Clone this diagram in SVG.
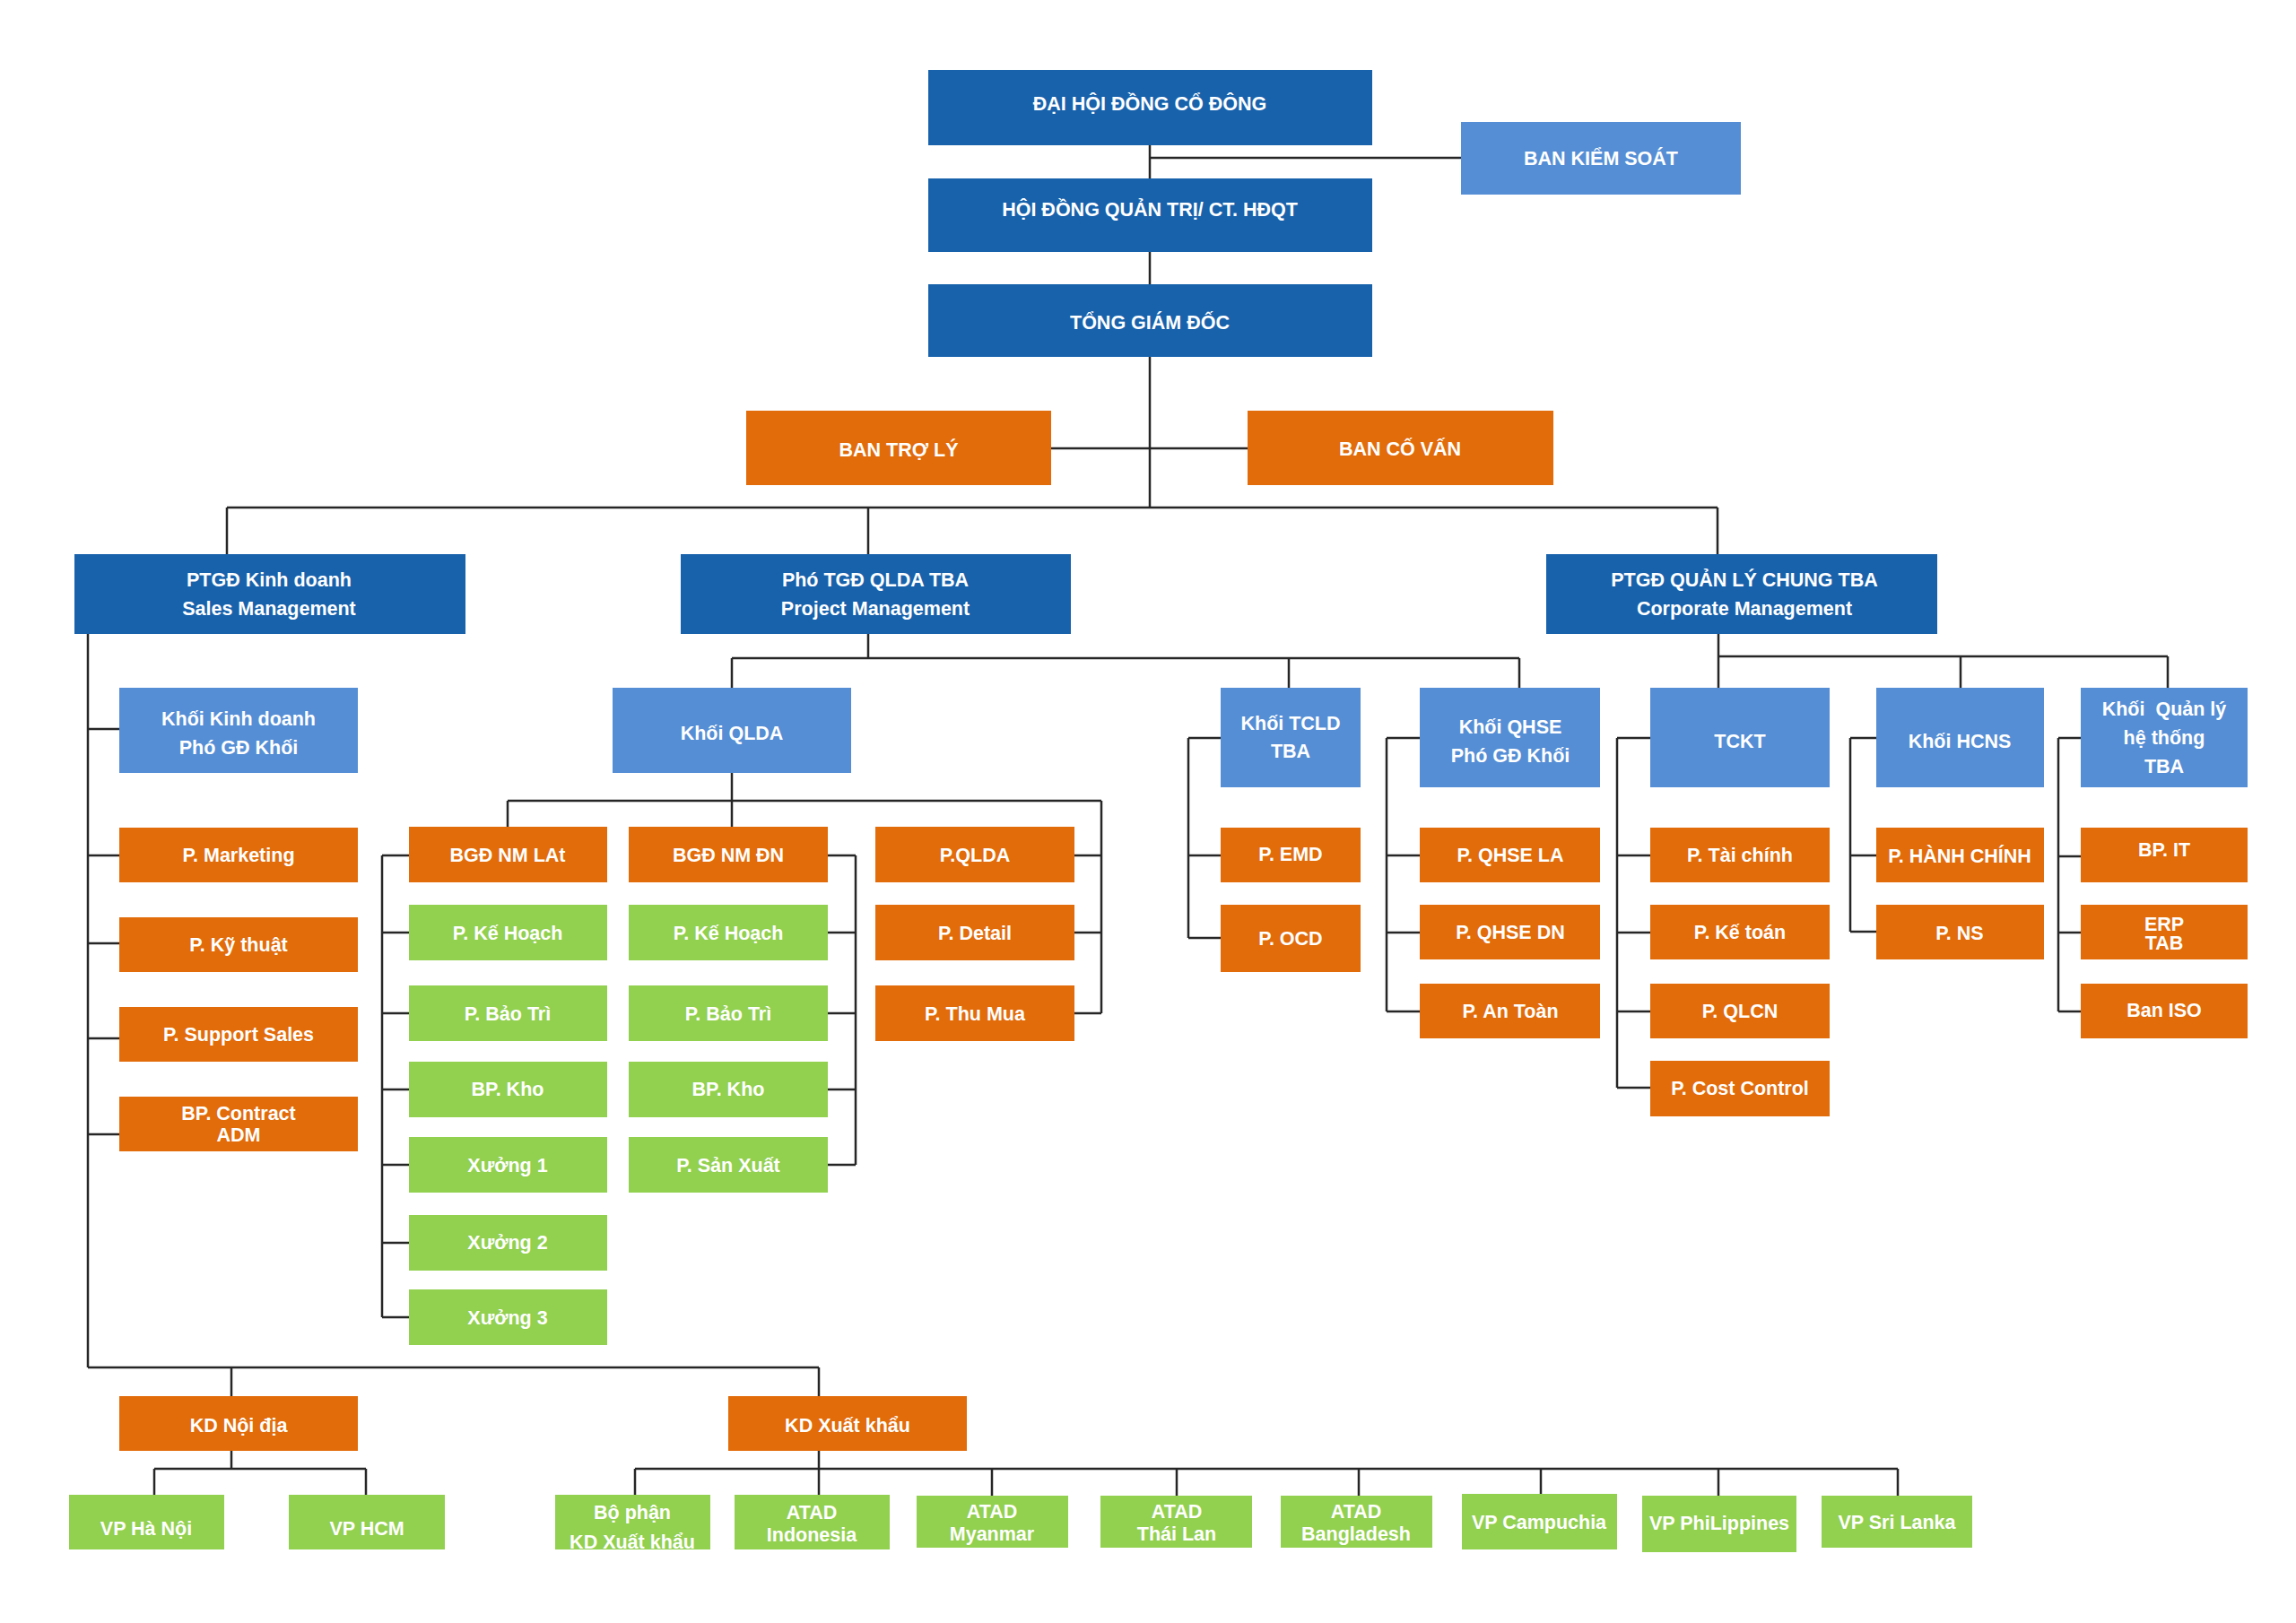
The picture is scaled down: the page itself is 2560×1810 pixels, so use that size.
<svg xmlns="http://www.w3.org/2000/svg" width="2560" height="1810" viewBox="0 0 2560 1810">
<style>
text{font-family:"Liberation Sans",Arial,sans-serif;font-weight:bold;font-size:21.5px;fill:#ffffff;text-anchor:middle}
.db{fill:#1862AC}
.lb{fill:#558ED5}
.or{fill:#E26B0A}
.gr{fill:#92D050}
.c path{fill:none;stroke:#262626;stroke-width:2.5}
</style>
<rect x="0" y="0" width="2560" height="1810" fill="#ffffff"/>
<g class="c" id="connectors">
<path d="M1282 162V199M1282 176H1629M1282 281V317M1282 398V566M1172 500H1391"/>
<path d="M253 566H1915M253 566V618M968 566V618M1915 566V618"/>
<path d="M98 707V1525M98 813H133M98 954H133M98 1052H133M98 1158H133M98 1265H133"/>
<path d="M98 1525H913M258 1525V1557M913 1525V1557"/>
<path d="M258 1618V1638M172 1638H408M172 1638V1667M408 1638V1667"/>
<path d="M913 1618V1667M708 1638H2116M708 1638V1667M1106 1638V1668M1312 1638V1668M1515 1638V1668M1718 1638V1666M1916 1638V1668M2116 1638V1668"/>
<path d="M968 707V734M816 734H1694M816 734V767M1437 734V767M1694 734V767"/>
<path d="M816 862V922M566 893H1228M566 893V922M1228 893V1130M1198 954H1228M1198 1040H1228M1198 1130H1228"/>
<path d="M426 954V1469M426 954H456M426 1040H456M426 1130H456M426 1215H456M426 1299H456M426 1386H456M426 1469H456"/>
<path d="M954 954V1299M923 954H954M923 1040H954M923 1130H954M923 1215H954M923 1299H954"/>
<path d="M1916 707V767M1916 732H2417M2186 732V767M2417 732V767"/>
<path d="M1325 823V1046M1325 823H1361M1325 954H1361M1325 1046H1361"/>
<path d="M1546 823V1128M1546 823H1583M1546 954H1583M1546 1040H1583M1546 1128H1583"/>
<path d="M1803 823V1213M1803 823H1840M1803 954H1840M1803 1040H1840M1803 1128H1840M1803 1213H1840"/>
<path d="M2063 823V1039M2063 823H2092M2063 954H2092M2063 1039H2092"/>
<path d="M2295 823V1128M2295 823H2320M2295 955H2320M2295 1040H2320M2295 1128H2320"/>
</g>
<g id="dhdcd"><rect class="db" x="1035" y="78" width="495" height="84"/><text x="1282" y="123">ĐẠI HỘI ĐỒNG CỔ ĐÔNG</text></g>
<g id="bks"><rect class="lb" x="1629" y="136" width="312" height="81"/><text x="1785" y="184">BAN KIỂM SOÁT</text></g>
<g id="hdqt"><rect class="db" x="1035" y="199" width="495" height="82"/><text x="1282" y="241">HỘI ĐỒNG QUẢN TRỊ/ CT. HĐQT</text></g>
<g id="tgd"><rect class="db" x="1035" y="317" width="495" height="81"/><text x="1282" y="367">TỔNG GIÁM ĐỐC</text></g>
<g id="tro-ly"><rect class="or" x="832" y="458" width="340" height="83"/><text x="1002" y="509">BAN TRỢ LÝ</text></g>
<g id="co-van"><rect class="or" x="1391" y="458" width="341" height="83"/><text x="1561" y="508">BAN CỐ VẤN</text></g>
<g id="ptgd-kd"><rect class="db" x="83" y="618" width="436" height="89"/><text x="300" y="654">PTGĐ Kinh doanh</text><text x="300" y="686">Sales Management</text></g>
<g id="pho-tgd-qlda"><rect class="db" x="759" y="618" width="435" height="89"/><text x="976" y="654">Phó TGĐ QLDA TBA</text><text x="976" y="686">Project Management</text></g>
<g id="ptgd-qlc"><rect class="db" x="1724" y="618" width="436" height="89"/><text x="1945" y="654">PTGĐ QUẢN LÝ CHUNG TBA</text><text x="1945" y="686">Corporate Management</text></g>
<g id="khoi-kd"><rect class="lb" x="133" y="767" width="266" height="95"/><text x="266" y="809">Khối Kinh doanh</text><text x="266" y="841">Phó GĐ Khối</text></g>
<g id="khoi-qlda"><rect class="lb" x="683" y="767" width="266" height="95"/><text x="816" y="825">Khối QLDA</text></g>
<g id="khoi-tcld"><rect class="lb" x="1361" y="767" width="156" height="111"/><text x="1439" y="814">Khối TCLD</text><text x="1439" y="845">TBA</text></g>
<g id="khoi-qhse"><rect class="lb" x="1583" y="767" width="201" height="111"/><text x="1684" y="818">Khối QHSE</text><text x="1684" y="850">Phó GĐ Khối</text></g>
<g id="tckt"><rect class="lb" x="1840" y="767" width="200" height="111"/><text x="1940" y="834">TCKT</text></g>
<g id="khoi-hcns"><rect class="lb" x="2092" y="767" width="187" height="111"/><text x="2185" y="834">Khối HCNS</text></g>
<g id="khoi-qlht"><rect class="lb" x="2320" y="767" width="186" height="111"/><text x="2413" y="798" xml:space="preserve">Khối  Quản lý</text><text x="2413" y="830">hệ thống</text><text x="2413" y="862">TBA</text></g>
<g id="p-marketing"><rect class="or" x="133" y="923" width="266" height="61"/><text x="266" y="961">P. Marketing</text></g>
<g id="p-ky-thuat"><rect class="or" x="133" y="1023" width="266" height="61"/><text x="266" y="1061">P. Kỹ thuật</text></g>
<g id="p-support-sales"><rect class="or" x="133" y="1123" width="266" height="61"/><text x="266" y="1161">P. Support Sales</text></g>
<g id="bp-contract"><rect class="or" x="133" y="1223" width="266" height="61"/><text x="266" y="1249">BP. Contract</text><text x="266" y="1273">ADM</text></g>
<g id="bgd-nm-lat"><rect class="or" x="456" y="922" width="221" height="62"/><text x="566" y="961">BGĐ NM LAt</text></g>
<g id="ke-hoach-lat"><rect class="gr" x="456" y="1009" width="221" height="62"/><text x="566" y="1048">P. Kế Hoạch</text></g>
<g id="bao-tri-lat"><rect class="gr" x="456" y="1099" width="221" height="62"/><text x="566" y="1138">P. Bảo Trì</text></g>
<g id="kho-lat"><rect class="gr" x="456" y="1184" width="221" height="62"/><text x="566" y="1222">BP. Kho</text></g>
<g id="xuong-1"><rect class="gr" x="456" y="1268" width="221" height="62"/><text x="566" y="1307">Xưởng 1</text></g>
<g id="xuong-2"><rect class="gr" x="456" y="1355" width="221" height="62"/><text x="566" y="1393">Xưởng 2</text></g>
<g id="xuong-3"><rect class="gr" x="456" y="1438" width="221" height="62"/><text x="566" y="1477">Xưởng 3</text></g>
<g id="bgd-nm-dn"><rect class="or" x="701" y="922" width="222" height="62"/><text x="812" y="961">BGĐ NM ĐN</text></g>
<g id="ke-hoach-dn"><rect class="gr" x="701" y="1009" width="222" height="62"/><text x="812" y="1048">P. Kế Hoạch</text></g>
<g id="bao-tri-dn"><rect class="gr" x="701" y="1099" width="222" height="62"/><text x="812" y="1138">P. Bảo Trì</text></g>
<g id="kho-dn"><rect class="gr" x="701" y="1184" width="222" height="62"/><text x="812" y="1222">BP. Kho</text></g>
<g id="san-xuat"><rect class="gr" x="701" y="1268" width="222" height="62"/><text x="812" y="1307">P. Sản Xuất</text></g>
<g id="p-qlda"><rect class="or" x="976" y="922" width="222" height="62"/><text x="1087" y="961">P.QLDA</text></g>
<g id="p-detail"><rect class="or" x="976" y="1009" width="222" height="62"/><text x="1087" y="1048">P. Detail</text></g>
<g id="p-thu-mua"><rect class="or" x="976" y="1099" width="222" height="62"/><text x="1087" y="1138">P. Thu Mua</text></g>
<g id="p-emd"><rect class="or" x="1361" y="923" width="156" height="61"/><text x="1439" y="960">P. EMD</text></g>
<g id="p-ocd"><rect class="or" x="1361" y="1009" width="156" height="75"/><text x="1439" y="1054">P. OCD</text></g>
<g id="p-qhse-la"><rect class="or" x="1583" y="923" width="201" height="61"/><text x="1684" y="961">P. QHSE LA</text></g>
<g id="p-qhse-dn"><rect class="or" x="1583" y="1009" width="201" height="61"/><text x="1684" y="1047">P. QHSE DN</text></g>
<g id="p-an-toan"><rect class="or" x="1583" y="1097" width="201" height="61"/><text x="1684" y="1135">P. An Toàn</text></g>
<g id="p-tai-chinh"><rect class="or" x="1840" y="923" width="200" height="61"/><text x="1940" y="961">P. Tài chính</text></g>
<g id="p-ke-toan"><rect class="or" x="1840" y="1009" width="200" height="61"/><text x="1940" y="1047">P. Kế toán</text></g>
<g id="p-qlcn"><rect class="or" x="1840" y="1097" width="200" height="61"/><text x="1940" y="1135">P. QLCN</text></g>
<g id="p-cost-control"><rect class="or" x="1840" y="1183" width="200" height="62"/><text x="1940" y="1221">P. Cost Control</text></g>
<g id="p-hanh-chinh"><rect class="or" x="2092" y="923" width="187" height="61"/><text x="2185" y="962">P. HÀNH CHÍNH</text></g>
<g id="p-ns"><rect class="or" x="2092" y="1009" width="187" height="61"/><text x="2185" y="1048">P. NS</text></g>
<g id="bp-it"><rect class="or" x="2320" y="923" width="186" height="61"/><text x="2413" y="955">BP. IT</text></g>
<g id="erp-tab"><rect class="or" x="2320" y="1009" width="186" height="61"/><text x="2413" y="1038">ERP</text><text x="2413" y="1059">TAB</text></g>
<g id="ban-iso"><rect class="or" x="2320" y="1097" width="186" height="61"/><text x="2413" y="1134">Ban ISO</text></g>
<g id="kd-noi-dia"><rect class="or" x="133" y="1557" width="266" height="61"/><text x="266" y="1597">KD Nội địa</text></g>
<g id="kd-xuat-khau"><rect class="or" x="812" y="1557" width="266" height="61"/><text x="945" y="1597">KD Xuất khẩu</text></g>
<g id="vp-ha-noi"><rect class="gr" x="77" y="1667" width="173" height="61"/><text x="163" y="1712">VP Hà Nội</text></g>
<g id="vp-hcm"><rect class="gr" x="322" y="1667" width="174" height="61"/><text x="409" y="1712">VP HCM</text></g>
<g id="bo-phan-kdxk"><rect class="gr" x="619" y="1667" width="173" height="61"/><text x="705" y="1694">Bộ phận</text><text x="705" y="1727">KD Xuất khẩu</text></g>
<g id="atad-indonesia"><rect class="gr" x="819" y="1667" width="173" height="61"/><text x="905" y="1694">ATAD</text><text x="905" y="1719">Indonesia</text></g>
<g id="atad-myanmar"><rect class="gr" x="1022" y="1668" width="169" height="58"/><text x="1106" y="1693">ATAD</text><text x="1106" y="1718">Myanmar</text></g>
<g id="atad-thai-lan"><rect class="gr" x="1227" y="1668" width="169" height="58"/><text x="1312" y="1693">ATAD</text><text x="1312" y="1718">Thái Lan</text></g>
<g id="atad-bangladesh"><rect class="gr" x="1428" y="1668" width="169" height="58"/><text x="1512" y="1693">ATAD</text><text x="1512" y="1718">Bangladesh</text></g>
<g id="vp-campuchia"><rect class="gr" x="1630" y="1666" width="173" height="62"/><text x="1716" y="1705">VP Campuchia</text></g>
<g id="vp-philippines"><rect class="gr" x="1831" y="1668" width="172" height="63"/><text x="1917" y="1706">VP PhiLippines</text></g>
<g id="vp-sri-lanka"><rect class="gr" x="2031" y="1668" width="168" height="58"/><text x="2115" y="1705">VP Sri Lanka</text></g>
</svg>
